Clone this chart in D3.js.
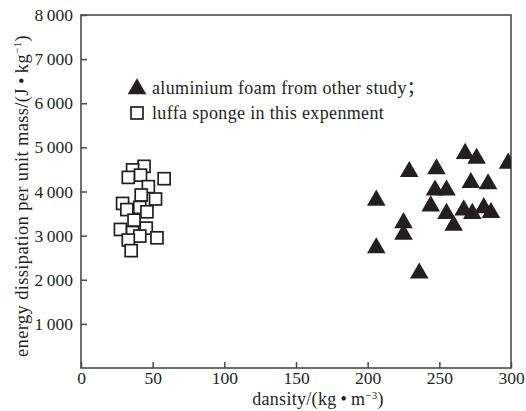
<!DOCTYPE html>
<html>
<head>
<meta charset="utf-8">
<script src="https://cdn.jsdelivr.net/npm/d3@7/dist/d3.min.js"></script>
<style>
  html, body { margin: 0; padding: 0; background: #fff; }
  svg { display: block; }
  text { font-family: "Liberation Serif", "Times New Roman", serif; fill: #231f20; }
</style>
</head>
<body>
<svg id="chart" width="526" height="411"></svg>
<script>
// Aluminium foam (other study): density kg/m^3 and energy dissipation J/kg
const foamDensity = [206, 206, 225, 225, 236, 229, 248, 247, 255, 244, 255, 260, 267, 273, 281, 286, 272, 284, 268, 276, 298];
const foamEnergy  = [3800, 2720, 3290, 3030, 2150, 4450, 4510, 4030, 4030, 3670, 3500, 3230, 3580, 3500, 3630, 3520, 4200, 4170, 4860, 4750, 4640];

// Luffa sponge (this experiment)
const luffaDensity = [44, 36, 41.5, 33, 58, 47, 42, 52, 29, 32, 41, 46, 37, 27.5, 45.5, 36, 41, 33, 53, 35];
const luffaEnergy  = [4570, 4490, 4370, 4320, 4290, 4110, 3920, 3830, 3730, 3590, 3640, 3540, 3350, 3140, 3170, 3070, 2990, 2900, 2950, 2660];

const xTicks = [0, 50, 100, 150, 200, 250, 300];
const yTicks = [1000, 2000, 3000, 4000, 5000, 6000, 7000, 8000];
const legendLabels = ["aluminium foam from other study；", "luffa sponge in this expenment"];

const W = 526, H = 411;
const margin = { left: 81, right: 15, top: 15, bottom: 43 };
const iw = W - margin.left - margin.right;
const ih = H - margin.top - margin.bottom;

const ink = "#231f20";
const axisInk = "#4a4a4a";

const svg = d3.select("#chart");
const g = svg.append("g").attr("transform", `translate(${margin.left},${margin.top})`);

const x = d3.scaleLinear().domain([0, 300]).range([0, iw]);
const y = d3.scaleLinear().domain([0, 8000]).range([ih, 0]);

// thousands grouped with a thin space, e.g. "8 000"
const fmt = d3.formatLocale({ decimal: ".", thousands: "\u2009", grouping: [3], currency: ["", ""] }).format(",d");

g.append("clipPath").attr("id", "plotClip")
  .append("rect").attr("x", 0).attr("y", 0).attr("width", iw).attr("height", ih);

// Axes with inward ticks
const xAxis = g.append("g").attr("transform", `translate(0,${ih})`)
  .call(d3.axisBottom(x).tickValues(xTicks).tickSizeInner(-6).tickSizeOuter(0).tickPadding(4).tickFormat(d3.format("d")));
const yAxis = g.append("g")
  .call(d3.axisLeft(y).tickValues(yTicks).tickSizeInner(-6).tickSizeOuter(0).tickPadding(8).tickFormat(fmt));

[xAxis, yAxis].forEach(a => {
  a.select(".domain").remove();
  a.selectAll(".tick line").attr("stroke", axisInk).attr("stroke-width", 1.5);
  a.selectAll(".tick text").attr("font-size", 17.5).attr("fill", ink)
    .style("font-family", '"Liberation Serif", serif');
});

// Frame
g.append("rect").attr("x", 0).attr("y", 0).attr("width", iw).attr("height", ih)
  .attr("fill", "none").attr("stroke", axisInk).attr("stroke-width", 1.6);

// Markers
const tri = d3.symbol().type(d3.symbolTriangle).size(150);
const sq = 12;

const marks = g.append("g").attr("clip-path", "url(#plotClip)");

marks.selectAll("path.foam").data(foamDensity.map((d, i) => [d, foamEnergy[i]]))
  .join("path").attr("class", "foam")
  .attr("d", tri)
  .attr("transform", d => `translate(${x(d[0])},${y(d[1])})`)
  .attr("fill", ink);

marks.selectAll("rect.luffa").data(luffaDensity.map((d, i) => [d, luffaEnergy[i]]))
  .join("rect").attr("class", "luffa")
  .attr("x", d => x(d[0]) - sq / 2).attr("y", d => y(d[1]) - sq / 2)
  .attr("width", sq).attr("height", sq)
  .attr("fill", "#fff").attr("stroke", ink).attr("stroke-width", 1.7);

// Legend
const lg = svg.append("g").attr("transform", "translate(137,0)");
lg.append("path").attr("d", tri).attr("transform", "translate(0,89)").attr("fill", ink);
lg.append("rect").attr("x", -sq / 2).attr("y", 113 - sq / 2).attr("width", sq).attr("height", sq)
  .attr("fill", "#fff").attr("stroke", ink).attr("stroke-width", 1.7);
lg.append("text").attr("x", 15).attr("y", 94).attr("font-size", 18).attr("letter-spacing", 0.35)
  .style("font-family", '"Liberation Serif", "Noto Sans CJK SC", serif').text(legendLabels[0]);
lg.append("text").attr("x", 15).attr("y", 119).attr("font-size", 18).attr("letter-spacing", 0.35).text(legendLabels[1]);

// Axis titles
const xt = svg.append("text").attr("x", 318).attr("y", 405).attr("text-anchor", "middle")
  .attr("font-size", 18).attr("letter-spacing", 0.3);
xt.append("tspan").text("dansity/(kg\u2009•\u2009m");
xt.append("tspan").attr("font-size", 11).attr("dy", -6).text("−3");
xt.append("tspan").attr("dy", 6).text(")");

const yt = svg.append("text").attr("transform", "translate(28,196) rotate(-90)")
  .attr("text-anchor", "middle").attr("font-size", 18.5).attr("letter-spacing", 0.35);
yt.append("tspan").text("energy dissipation per unit mass/(J\u2009•\u2009kg");
yt.append("tspan").attr("font-size", 11).attr("dy", -7).text("−1");
yt.append("tspan").attr("dy", 7).text(")");
</script>
</body>
</html>
